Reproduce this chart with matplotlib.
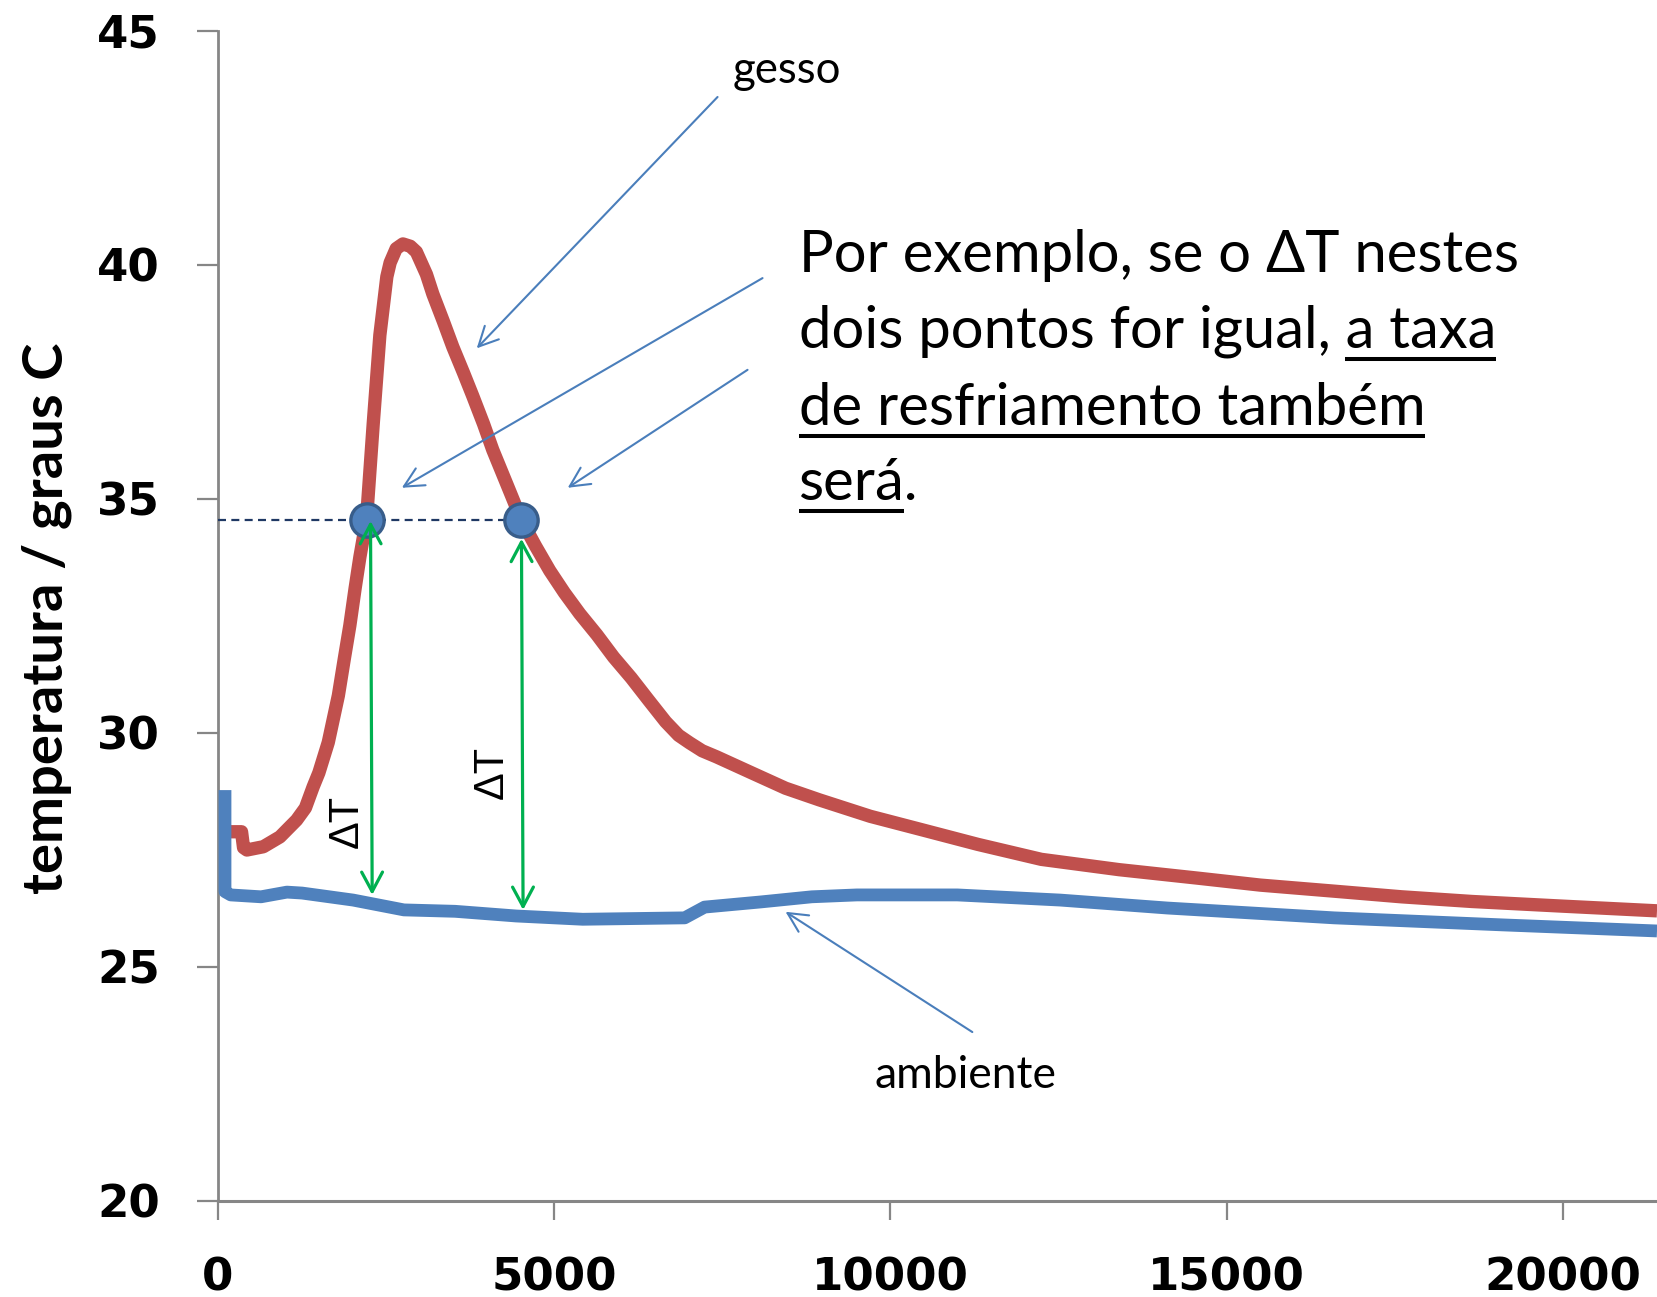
import matplotlib
matplotlib.use('Agg')
import matplotlib.pyplot as plt

# temperatura do gesso (curva vermelha)
gesso_t = [178, 350, 380, 430, 674, 921, 1169, 1300, 1415, 1500, 1640, 1700, 1790,
           1880, 1961, 2040, 2110, 2209, 2308, 2407, 2511, 2560, 2650, 2750, 2860,
           2950, 3100, 3195, 3350, 3492, 3650, 3789, 3950, 4086, 4300, 4513, 4720,
           4933, 5150, 5379, 5634, 5884, 6144, 6404, 6657, 6850, 7013, 7200, 7415,
           7934, 8440, 8945, 9700, 10475, 11300, 12244, 13400, 14561, 15500, 16600,
           17600, 18648, 20000, 21400]
gesso_T = [27.89, 27.89, 27.55, 27.5, 27.57, 27.78, 28.14, 28.4, 28.85, 29.15, 29.8,
           30.2, 30.8, 31.6, 32.3, 33.1, 33.76, 34.57, 36.6, 38.5, 39.75, 40.05, 40.35,
           40.45, 40.4, 40.28, 39.8, 39.38, 38.8, 38.25, 37.7, 37.2, 36.6, 36.05, 35.3,
           34.55, 34.0, 33.47, 33.0, 32.55, 32.1, 31.62, 31.18, 30.7, 30.24, 29.95,
           29.79, 29.62, 29.49, 29.15, 28.82, 28.57, 28.22, 27.93, 27.62, 27.3, 27.08,
           26.9, 26.75, 26.62, 26.5, 26.4, 26.3, 26.2]

# temperatura ambiente (curva azul)
amb_t = [104, 104, 190, 640, 1025, 1250, 2010, 2765, 3526, 4433, 5424, 6940, 7236,
         8070, 8830, 9500, 10995, 12526, 14120, 16600, 19100, 21400]
amb_T = [28.78, 26.61, 26.54, 26.5, 26.6, 26.58, 26.43, 26.22, 26.19, 26.09, 26.02,
         26.05, 26.28, 26.39, 26.5, 26.54, 26.54, 26.43, 26.26, 26.05, 25.9, 25.77]

# pontos com mesma temperatura
pts_t = [2209, 4513]
pts_T = [34.56, 34.56]

# setas de Delta T
dT_top_t = [2268, 4513]
dT_top_T = [34.53, 34.15]
dT_bot_t = [2293, 4537]
dT_bot_T = [26.54, 26.22]
dT_lbl_t = [1917, 4067]
dT_lbl_T = [28.1, 29.15]

xticks = [0, 5000, 10000, 15000, 20000]
yticks = [20, 25, 30, 35, 40, 45]

texto = ['Por exemplo, se o \u0394T nestes',
         'dois pontos for igual, a taxa',
         'de resfriamento também',
         'será.']

RED = '#C0504D'
BLUE = '#4F81BD'
GREEN = '#00B050'
ARROW = '#4A7EBB'
GRAY = '#868686'
SANS = ['Lato', 'DejaVu Sans']
BIG = 41.8

fig = plt.figure(figsize=(16.57, 12.97), dpi=100)
ax = fig.add_axes([218 / 1657, 1 - 1201 / 1297, 1439 / 1657, 1170 / 1297])

ax.plot(gesso_t, gesso_T, color=RED, lw=9.6, solid_capstyle='butt',
        solid_joinstyle='round', zorder=3)
ax.plot(amb_t, amb_T, color=BLUE, lw=9.2, solid_capstyle='butt',
        solid_joinstyle='round', zorder=3)

ax.plot([0, pts_t[1]], [pts_T[0], pts_T[1]], color='#1F3864', lw=1.6,
        linestyle=(0, (3.6, 2.4)), zorder=4)
ax.plot(pts_t, pts_T, 'o', ms=24, mfc=BLUE, mec='#385D8A', mew=2.4, zorder=5)

for i in range(2):
    ax.annotate('', xy=(dT_bot_t[i], dT_bot_T[i]), xytext=(dT_top_t[i], dT_top_T[i]),
                arrowprops=dict(arrowstyle='<->,head_length=1.4,head_width=0.75',
                                color=GREEN, lw=2.3, shrinkA=0, shrinkB=0,
                                mutation_scale=10), zorder=6)
    ax.text(dT_lbl_t[i], dT_lbl_T[i], '\u0394T', rotation=90, ha='center', va='center',
            fontsize=30, family='Liberation Sans', zorder=6)

# setas de anotacao
setas = [((7429, 43.59), (3848, 38.22)),
         ((8098, 39.72), (2734, 35.24)),
         ((7875, 37.76), (5201, 35.24)),
         ((11218, 23.61), (8440, 26.18))]
for ini, fim in setas:
    ax.annotate('', xy=fim, xytext=ini,
                arrowprops=dict(arrowstyle='->,head_length=1.4,head_width=0.7',
                                color=ARROW, lw=1.5, shrinkA=0, shrinkB=0,
                                mutation_scale=10), zorder=6)

ax.text(7652, 43.89, 'gesso', fontsize=31.5, family=SANS, ha='left', va='baseline')
ax.text(9762, 22.41, 'ambiente', fontsize=32, family=SANS, ha='left', va='baseline')

# texto principal
bases = [39.85, 38.23, 36.58, 34.98]
x0 = 8633
linhas = []
for s, b in zip(texto, bases):
    linhas.append(ax.text(x0, b, s, fontsize=BIG, family=SANS, ha='left',
                          va='baseline', zorder=7))

ax.set_xlim(0, 21400)
ax.set_ylim(20, 45)
ax.set_xticks(xticks)
ax.set_yticks(yticks)
for side in ['top', 'right']:
    ax.spines[side].set_visible(False)
ax.spines['left'].set_color(GRAY)
ax.spines['left'].set_linewidth(2)
ax.spines['bottom'].set_color(GRAY)
ax.spines['bottom'].set_linewidth(2.2)
ax.spines['bottom'].set_zorder(8)
ax.tick_params(axis='y', length=15, width=1.6, color=GRAY, pad=27)
ax.tick_params(axis='x', length=14, width=1.6, color=GRAY, pad=26)
for lab in ax.get_xticklabels() + ax.get_yticklabels():
    lab.set_fontsize(32.5)
    lab.set_fontweight('bold')
    lab.set_family('DejaVu Sans')

fig.text(47 / 1657, 1 - 618 / 1297, 'temperatura / graus C', rotation=90,
         ha='center', va='center', fontsize=40.5, fontweight='bold', family=SANS)

# sublinhados
fig.canvas.draw()
r = fig.canvas.get_renderer()


def largura(s):
    t = ax.text(0, 25, s, fontsize=BIG, family=SANS)
    w = t.get_window_extent(r).width
    t.remove()
    return w


inv = ax.transData.inverted()
trechos = [(1, 'a taxa', 'fim'), (2, texto[2], 'ini'), (3, 'será', 'ini')]
for i, parte, onde in trechos:
    bb = linhas[i].get_window_extent(r)
    ybase = ax.transData.transform((x0, bases[i]))[1]
    w = largura(parte)
    if onde == 'fim':
        xa, xb = bb.x1 - w, bb.x1
    else:
        xa, xb = bb.x0, bb.x0 + w
    (da, dy), (db, _) = inv.transform([(xa, ybase - 11), (xb, ybase - 11)])
    ax.plot([da, db], [dy, dy], color='black', lw=2.9, solid_capstyle='butt',
            zorder=7)

fig.savefig('out.png', dpi=100)
